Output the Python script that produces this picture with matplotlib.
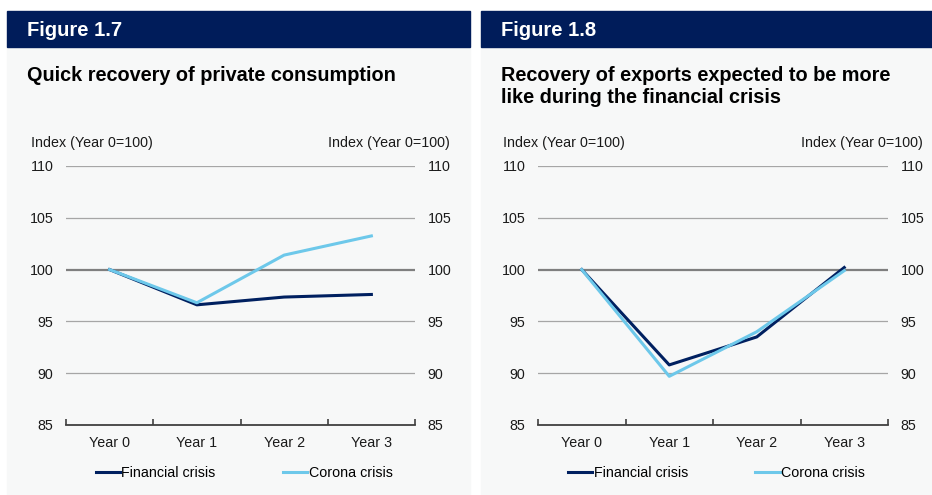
import matplotlib.pyplot as plt
from matplotlib.patches import Rectangle

plt.rcParams['font.family'] = ['Liberation Sans', 'DejaVu Sans']

years = ['Year 0', 'Year 1', 'Year 2', 'Year 3']
cons_financial = [100, 96.6, 97.35, 97.6]
cons_corona = [100, 96.8, 101.4, 103.25]
exp_financial = [100, 90.8, 93.5, 100.2]
exp_corona = [100, 89.7, 94.0, 99.9]

W, H = 932, 495
navy = '#001c5a'
dark = '#002060'
light = '#6dc8ea'
panel_bg = '#f7f8f8'
fs = 10.3

fig = plt.figure(figsize=(W / 100, H / 100), dpi=100)
fig.patch.set_facecolor('white')


def px_box(x0, y0, x1, y1):
    return [x0 / W, (H - y1) / H, (x1 - x0) / W, (y1 - y0) / H]


def panel(x0, x1, fig_label, title_lines, fin, cor, ax_x0, ax_x1):
    # panel background and header bar
    fig.patches.append(Rectangle((x0 / W, 0), (x1 - x0) / W, (H - 47) / H,
                                 transform=fig.transFigure, color=panel_bg, zorder=-2))
    fig.patches.append(Rectangle((x0 / W, (H - 47) / H), (x1 - x0) / W, 36 / H,
                                 transform=fig.transFigure, color=navy, zorder=-1))
    fig.text((x0 + 20) / W, (H - 30) / H, fig_label, color='white', fontsize=14.5,
             fontweight='bold', va='center', ha='left')
    fig.text((x0 + 20) / W, (H - 66) / H, title_lines, color='black', fontsize=14.3,
             fontweight='bold', va='top', ha='left', linespacing=1.2)

    ax = fig.add_axes(px_box(ax_x0, 166, ax_x1, 425))
    ax.set_facecolor('none')
    x = list(range(len(years)))
    ax.plot(x, fin, color=dark, lw=2.2, label='Financial crisis', zorder=3)
    ax.plot(x, cor, color=light, lw=2.2, label='Corona crisis', zorder=4)
    ax.set_xlim(-0.5, 3.5)
    ax.set_ylim(85, 110)
    ax.set_yticks([85, 90, 95, 100, 105, 110])
    for v in [90, 95, 105, 110]:
        ax.axhline(v, color='#a6a6a6', lw=0.9, zorder=1)
    ax.axhline(100, color='#7f7f7f', lw=1.6, zorder=2)
    ax.set_xticks(x)
    ax.set_xticklabels(years)
    ax.set_xticks([-0.5, 0.5, 1.5, 2.5, 3.5], minor=True)
    for s in ['top', 'left', 'right']:
        ax.spines[s].set_visible(False)
    ax.spines['bottom'].set_color('#404040')
    ax.spines['bottom'].set_linewidth(1.3)
    ax.tick_params(axis='y', length=0, pad=9, labelsize=fs, labelright=True,
                   labelcolor='#1a1a1a')
    ax.tick_params(axis='x', which='major', length=0, pad=8, labelsize=fs,
                   labelcolor='#1a1a1a')
    ax.tick_params(axis='x', which='minor', length=4, direction='in',
                   color='#404040', width=1.2)
    ax.text(-0.1, 1.09, 'Index (Year 0=100)', transform=ax.transAxes,
            fontsize=fs, ha='left', va='center', color='#1a1a1a')
    ax.text(1.1, 1.09, 'Index (Year 0=100)', transform=ax.transAxes,
            fontsize=fs, ha='right', va='center', color='#1a1a1a')
    ax.legend(loc='center', bbox_to_anchor=(0.51, -0.185), ncol=2, frameon=False,
              fontsize=fs, handlelength=1.7, handletextpad=0.1, columnspacing=4.7)
    return ax


panel(7, 470, 'Figure 1.7', 'Quick recovery of private consumption',
      cons_financial, cons_corona, 66, 415)
panel(481, 932, 'Figure 1.8',
      'Recovery of exports expected to be more\nlike during the financial crisis',
      exp_financial, exp_corona, 538, 888)

fig.savefig('out.png', dpi=100)
